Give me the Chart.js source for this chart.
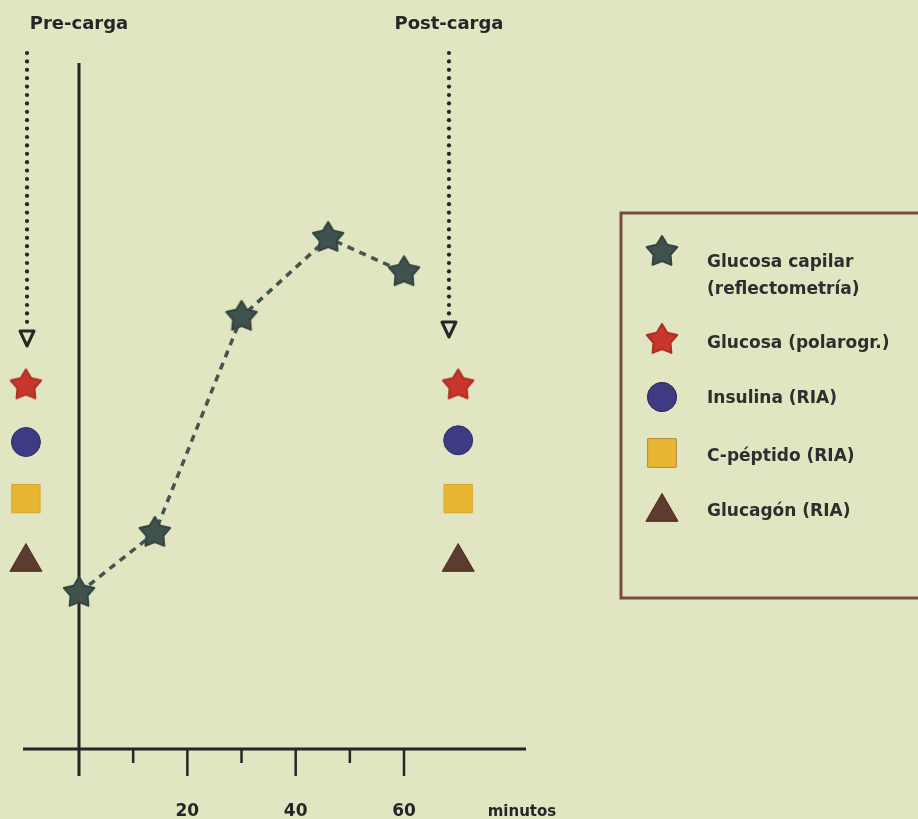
<!DOCTYPE html>
<html>
<head>
<meta charset="utf-8">
<script src="https://cdn.jsdelivr.net/npm/chart.js@4.4.0/dist/chart.umd.min.js"></script>
<style>
  html, body { margin: 0; padding: 0; background: #e1e5c2; }
  #wrap { width: 918px; height: 819px; }
</style>
</head>
<body>
<div id="wrap"><canvas id="curva" width="918" height="819"></canvas></div>
<script>
// Glucosa capilar (reflectometría) - minutos tras la carga
const minutos = [0, 14, 30, 46, 60];
const glucosaCapilar = [91, 126, 252, 298, 278];

// Muestras de pre-carga y post-carga (minutos)
const momentos = [-9.8, 70];
const glucosaPolarogr = [212, 212];
const insulina = [179, 180];
const cPeptido = [146, 146];
const glucagon = [109, 109];

// Eje de tiempo
const ticksMayores = [20, 40, 60];
const ticksMenores = [10, 30, 50];
const tituloEje = "minutos";

const leyenda = [
    ["Glucosa capilar", "(reflectometría)"],
    ["Glucosa (polarogr.)"],
    ["Insulina (RIA)"],
    ["C-péptido (RIA)"],
    ["Glucagón (RIA)"]
];

const TINTA = "#262626";
const FUENTE = '"DejaVu Sans", sans-serif';

// estrella de 5 puntas como imagen de punto
const estrella = (color, borde, r) => {
    const s = Math.ceil(r * 2 + 4);
    const c = document.createElement("canvas");
    c.width = s; c.height = s;
    const g = c.getContext("2d");
    g.beginPath();
    for (let i = 0; i < 10; i++) {
        const rad = i % 2 ? r * 0.56 : r;
        const a = -Math.PI / 2 + i * Math.PI / 5;
        g.lineTo(s / 2 + rad * Math.cos(a), s / 2 + rad * Math.sin(a));
    }
    g.closePath();
    g.fillStyle = color;
    g.fill();
    g.lineJoin = "round";
    g.lineWidth = 2;
    g.strokeStyle = borde;
    g.stroke();
    return c;
};

const estrellaVerde = estrella("#3f524d", "#33433f", 16);
const estrellaRoja = estrella("#c8362c", "#b02d25", 16);

// ejes, flechas y rótulos
const ejes = {
    id: "ejes",
    beforeDatasetsDraw(chart) {
        const { ctx, scales: { x, y } } = chart;
        const x0 = x.getPixelForValue(0);
        const yb = y.getPixelForValue(0);
        ctx.save();
        ctx.strokeStyle = TINTA;
        ctx.lineWidth = 3;
        ctx.lineCap = "butt";
        // eje vertical
        ctx.beginPath();
        ctx.moveTo(x0, y.getPixelForValue(400));
        ctx.lineTo(x0, yb + 27);
        ctx.stroke();
        // eje horizontal
        ctx.beginPath();
        ctx.moveTo(x.left, yb);
        ctx.lineTo(x.right, yb);
        ctx.stroke();
        ctx.lineWidth = 2.5;
        ticksMenores.forEach(t => {
            const px = x.getPixelForValue(t);
            ctx.beginPath(); ctx.moveTo(px, yb); ctx.lineTo(px, yb + 14); ctx.stroke();
        });
        ticksMayores.forEach(t => {
            const px = x.getPixelForValue(t);
            ctx.beginPath(); ctx.moveTo(px, yb); ctx.lineTo(px, yb + 27); ctx.stroke();
        });
        ctx.fillStyle = TINTA;
        ctx.textAlign = "center";
        ctx.textBaseline = "middle";
        ctx.font = "bold 17px " + FUENTE;
        ticksMayores.forEach(t => ctx.fillText(String(t), x.getPixelForValue(t), yb + 63));
        ctx.font = "bold 15px " + FUENTE;
        ctx.fillText(tituloEje, x.right - 4, yb + 63);

        // flechas punteadas
        const flecha = (px, yFin) => {
            for (let py = 53; py < yFin - 4; py += 8.4) {
                ctx.beginPath(); ctx.arc(px, py, 2.1, 0, Math.PI * 2); ctx.fill();
            }
            ctx.beginPath();
            ctx.moveTo(px - 7, yFin);
            ctx.lineTo(px + 7, yFin);
            ctx.lineTo(px, yFin + 15);
            ctx.closePath();
            ctx.lineWidth = 3;
            ctx.lineJoin = "round";
            ctx.stroke();
        };
        flecha(x.getPixelForValue(-9.6), 331);
        flecha(x.getPixelForValue(68.3), 322);

        ctx.font = "bold 18px " + FUENTE;
        ctx.fillText("Pre-carga", x0, 24);
        ctx.fillText("Post-carga", x.getPixelForValue(68.3), 24);
        ctx.restore();
    },
    afterDraw(chart) {
        const { ctx } = chart;
        ctx.save();
        ctx.strokeStyle = "#7a4a3e";
        ctx.lineWidth = 3;
        ctx.strokeRect(621, 213, 320, 385);
        const filas = [252, 340, 397, 453, 512];
        const textos = [[263, 290], [344], [399], [457], [512]];
        chart.data.datasets.forEach((ds, i) => {
            Chart.helpers.drawPoint(ctx, {
                pointStyle: ds.pointStyle,
                radius: ds.pointRadius,
                rotation: 0,
                borderWidth: 1
            }, 662, filas[i]);
            ctx.fillStyle = ds.backgroundColor;
            ctx.strokeStyle = ds.pointBorderColor;
            ctx.lineWidth = 1;
            if (ds.pointStyle !== estrellaVerde && ds.pointStyle !== estrellaRoja) {
                ctx.fill();
                ctx.stroke();
            }
            ctx.fillStyle = "#2e2e2e";
            ctx.font = "bold 17px " + FUENTE;
            ctx.textAlign = "left";
            ctx.textBaseline = "middle";
            leyenda[i].forEach((t, k) => ctx.fillText(t, 707, textos[i][k]));
        });
        ctx.restore();
    }
};

const puntos = (xs, ys) => xs.map((v, i) => ({ x: v, y: ys[i] }));

new Chart(document.getElementById("curva"), {
    type: "scatter",
    data: {
        datasets: [{
            label: "Glucosa capilar (reflectometría)",
            data: puntos(minutos, glucosaCapilar),
            showLine: true,
            borderColor: "#44554f",
            backgroundColor: "#3f524d",
            pointBorderColor: "#33433f",
            borderWidth: 3.5,
            borderDash: [7, 6],
            pointStyle: estrellaVerde,
            pointRadius: 16,
            clip: false
        }, {
            label: "Glucosa (polarogr.)",
            data: puntos(momentos, glucosaPolarogr),
            backgroundColor: "#c8362c",
            pointBorderColor: "#b02d25",
            pointStyle: estrellaRoja,
            pointRadius: 16,
            clip: false
        }, {
            label: "Insulina (RIA)",
            data: puntos(momentos, insulina),
            backgroundColor: "#3d3b82",
            pointBorderColor: "#2e2c6a",
            borderColor: "#2e2c6a",
            pointStyle: "circle",
            pointRadius: 14.5,
            clip: false
        }, {
            label: "C-péptido (RIA)",
            data: puntos(momentos, cPeptido),
            backgroundColor: "#e9b634",
            pointBorderColor: "#d9a52a",
            borderColor: "#d9a52a",
            pointStyle: "rect",
            pointRadius: 20,
            clip: false
        }, {
            label: "Glucagón (RIA)",
            data: puntos(momentos, glucagon),
            backgroundColor: "#5c3b30",
            pointBorderColor: "#4a2e25",
            borderColor: "#4a2e25",
            pointStyle: "triangle",
            pointRadius: 18.5,
            clip: false
        }]
    },
    options: {
        responsive: false,
        animation: false,
        layout: { padding: { left: 23, right: 392, top: 63, bottom: 70 } },
        plugins: { legend: { display: false }, tooltip: { enabled: false } },
        scales: {
            x: { type: "linear", display: false, min: -10.34, max: 82.52 },
            y: { display: false, min: 0, max: 400 }
        }
    },
    plugins: [ejes]
});
</script>
</body>
</html>
